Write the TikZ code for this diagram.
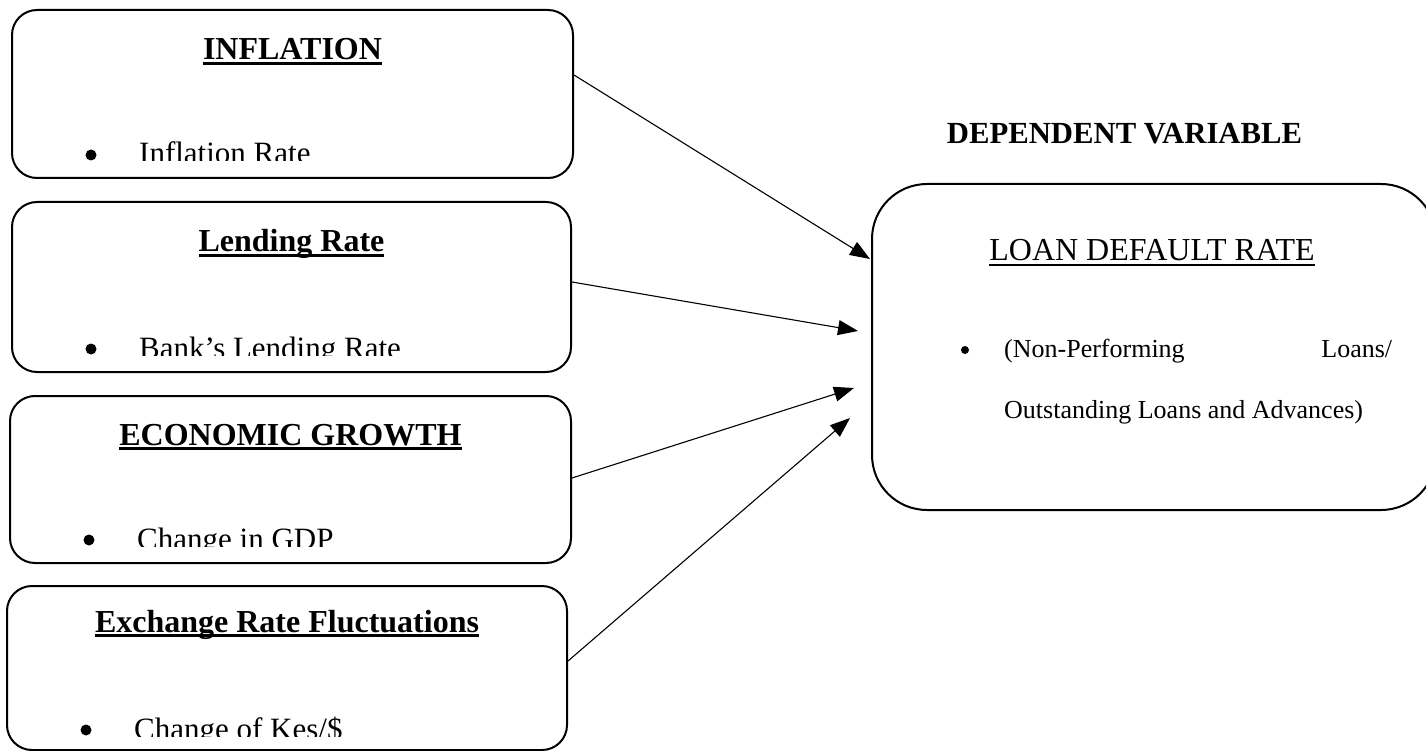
\documentclass[tikz,border=0pt]{standalone}
\usepackage{fontspec}
\setmainfont{Liberation Serif}
\usetikzlibrary{arrows.meta}

\newsavebox\ulinebox
\newcommand{\uln}[3]{\sbox\ulinebox{#3}\rlap{\raisebox{-#1}{\rule{\wd\ulinebox}{#2}}}\usebox\ulinebox}

\tikzset{
  varbox/.style={draw, line width=2pt, rounded corners=25pt, inner sep=0pt},
  ttl/.style={anchor=base, inner sep=0pt, font=\fontsize{32}{38}\selectfont\bfseries},
  itm/.style={anchor=base west, inner sep=0pt, font=\fontsize{31}{37}\selectfont},
  dot/.style={circle, fill, inner sep=0pt, minimum size=#1},
  dot/.default=11pt,
  link/.style={line width=1.1pt, -{Triangle[length=20pt,width=15pt]}}
}

\begin{document}
\begin{tikzpicture}[x=1pt, y=-1pt]
  \useasboundingbox (0,0) rectangle (1426,751);

  % independent variables
  \node[varbox, minimum width=561pt, minimum height=168pt] (inf) at (292.5,94) {};
  \node[varbox, minimum width=559pt, minimum height=170pt] (lnd) at (291.5,287) {};
  \node[varbox, minimum width=561pt, minimum height=167pt] (gro) at (290.5,479.5) {};
  \node[varbox, minimum width=560pt, minimum height=164pt] (fx) at (287,668) {};

  \node[ttl] (inf-ttl) at ([yshift=-51pt]inf.north) {\uln{5pt}{2.6pt}{INFLATION}};
  \node[ttl] (lnd-ttl) at ([yshift=-51pt]lnd.north) {\uln{5pt}{2.6pt}{Lending Rate}};
  \node[ttl] (gro-ttl) at ([yshift=-50pt]gro.north) {\uln{5pt}{2.6pt}{ECONOMIC GROWTH}};
  \node[ttl] (fx-ttl) at ([yshift=-47pt]fx.north) {\uln{5pt}{2.6pt}{Exchange Rate Fluctuations}};

  \foreach \bx/\txt/\dy in {inf/Inflation Rate/15, lnd/Bank’s Lending Rate/15,
                            gro/Change in GDP/15, fx/{Change of Kes/\$}/12}
  {
    \begin{scope}
      \clip (\bx.north west) rectangle ([yshift=\dy pt+3pt]\bx.south east);
      \node[dot] (\bx-dot) at ([xshift=80pt, yshift=\dy pt+9pt]\bx.south west) {};
      \node[itm] (\bx-txt) at ([xshift=128pt, yshift=\dy pt]\bx.south west) {\txt};
    \end{scope}
  }

  % dependent variable
  \node[anchor=base, inner sep=0pt, font=\fontsize{30.7}{36}\selectfont\bfseries] (dvhead) at (1124.5,144) {DEPENDENT VARIABLE};
  \node[draw, line width=2pt, rounded corners=55pt, minimum width=564pt, minimum height=326pt] (ldr) at (1154,347) {};
  \node[anchor=base, inner sep=0pt, font=\fontsize{32}{38}\selectfont] (ldr-ttl) at (1152,261) {\uln{5pt}{1.6pt}{LOAN DEFAULT RATE}};
  \node[dot=8pt] (ldr-dot) at (965,350) {};
  \node[anchor=base west, inner sep=0pt, font=\fontsize{26}{31}\selectfont] (ldr-l1) at (1004,357) {\hbox to 388pt{(Non-Performing\hfill Loans/}};
  \node[anchor=base west, inner sep=0pt, font=\fontsize{26}{31}\selectfont] (ldr-l2) at (1004,418) {Outstanding Loans and Advances)};

  % arrows
  \coordinate (in1) at (870,259);
  \coordinate (in2) at (858,331);
  \coordinate (in3) at (854,388);
  \coordinate (in4) at (850,418);
  \draw[link] ([yshift=19pt]inf.east) -- (in1);
  \draw[link] ([yshift=5pt]lnd.east) -- (in2);
  \draw[link] ([yshift=1.5pt]gro.east) -- (in3);
  \draw[link] ([yshift=7pt]fx.east) -- (in4);
\end{tikzpicture}
\end{document}
